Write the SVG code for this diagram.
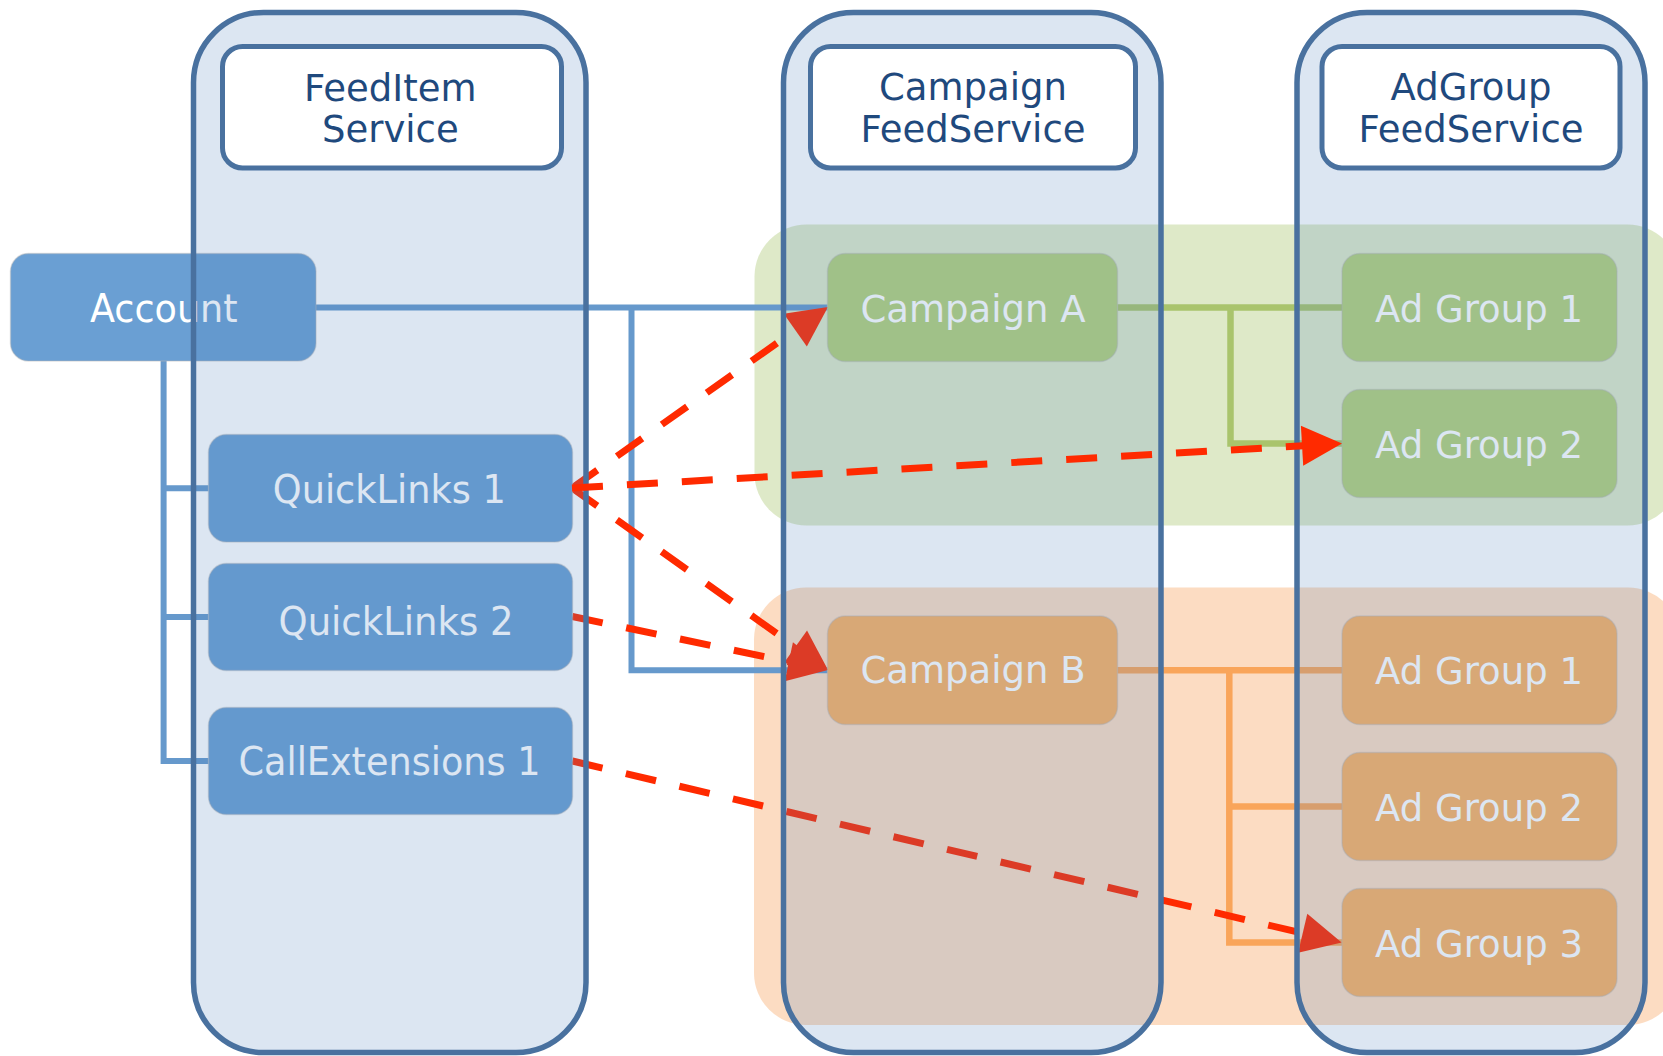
<svg xmlns="http://www.w3.org/2000/svg" width="1663" height="1056" viewBox="0 0 1663 1056">
<defs>
<style>
.region-g{fill:#9bbb59;fill-opacity:.33}
.region-o{fill:#f79646;fill-opacity:.33}
.lane{fill:#4f81bd;fill-opacity:.2;stroke:#49719f;stroke-width:5.5}
.hdr{fill:#ffffff;stroke:#49719f;stroke-width:5}
.htxt{font-family:"DejaVu Sans",Verdana,sans-serif;font-size:37px;fill:#1f497d;text-anchor:middle}
.nb{fill:#6a9fd3}
.ng{fill:#b5d17b}
.no{fill:#fbb265}
.node{stroke:#b4b4b4;stroke-opacity:.4;stroke-width:1.5}
.ntxt{font-family:"DejaVu Sans",Verdana,sans-serif;font-size:37px;fill:#ffffff;text-anchor:middle}
.btxt{font-size:38.5px}
.cb{fill:none;stroke:#6699cc;stroke-width:6}
.cg{fill:none;stroke:#a9c46c;stroke-width:6.5}
.co{fill:none;stroke:#f9a55a;stroke-width:6.5}
.dash{fill:none;stroke:#ff2a00;stroke-width:7;stroke-dasharray:31 24;marker-end:url(#arrow)}
</style>
<marker id="arrow" markerUnits="userSpaceOnUse" markerWidth="42" markerHeight="42" refX="30" refY="20" orient="auto" overflow="visible"><path d="M0,0 L40,20 L0,40 Z" fill="#ff2a00"/></marker>
</defs>

<g id="regions">
<rect id="region-campaign-a" class="region-g" x="754.5" y="224.5" width="925" height="301" rx="52"/>
<rect id="region-campaign-b" class="region-o" x="754" y="587.5" width="926" height="437.5" rx="52"/>
</g>

<g id="connectors">
<path class="cb" d="M163.6,361 V761 H208.5 M163.6,488.2 H208.5 M163.6,617 H208.5"/>
<path class="cb" d="M316,307.5 H827.5 M631.5,307.5 V670.2 H827.5"/>
<path class="cg" d="M1117.5,307.5 H1342 M1230.5,307.5 V443.5 H1342"/>
<path class="co" d="M1117.5,670.2 H1342 M1229.3,670.2 V942.4 H1342 M1229.3,806.5 H1342"/>
<path class="dash" d="M572,488 L819.8,312.8"/>
<path class="dash" d="M572,488 L819.9,664.2"/>
<path class="dash" d="M572.3,616.5 L818.2,667.9"/>
<path class="dash" d="M572.3,761 L1331.9,940.1"/>
</g>

<g id="node-account"><rect class="node nb" x="10.5" y="253.5" width="305.5" height="107.5" rx="18"/><text class="ntxt btxt" x="163.8" y="321.7" textLength="147.7" lengthAdjust="spacingAndGlyphs">Account</text></g>
<g id="node-quicklinks-1"><rect class="node nb" x="208.5" y="434.5" width="364" height="107.5" rx="18"/><text class="ntxt btxt" x="389.3" y="503.3" textLength="233" lengthAdjust="spacingAndGlyphs">QuickLinks 1</text></g>
<g id="node-quicklinks-2"><rect class="node nb" x="208.5" y="563.5" width="364" height="107" rx="18"/><text class="ntxt btxt" x="396" y="634.5" textLength="235" lengthAdjust="spacingAndGlyphs">QuickLinks 2</text></g>
<g id="node-callextensions-1"><rect class="node nb" x="208.5" y="707.5" width="364" height="107" rx="18"/><text class="ntxt btxt" x="389.5" y="775" textLength="302" lengthAdjust="spacingAndGlyphs">CallExtensions 1</text></g>
<g id="node-campaign-a"><rect class="node ng" x="827.5" y="253.5" width="290" height="108" rx="18"/><text class="ntxt" x="973" y="321.7">Campaign A</text></g>
<g id="node-campaign-b"><rect class="node no" x="827.5" y="616" width="290" height="108.5" rx="18"/><text class="ntxt" x="973" y="683.3">Campaign B</text></g>
<g id="node-a-adgroup-1"><rect class="node ng" x="1342" y="253.5" width="275" height="108" rx="18"/><text class="ntxt" x="1479" y="321.7">Ad Group 1</text></g>
<g id="node-a-adgroup-2"><rect class="node ng" x="1342" y="389.5" width="275" height="108" rx="18"/><text class="ntxt" x="1479" y="457.5">Ad Group 2</text></g>
<g id="node-b-adgroup-1"><rect class="node no" x="1342" y="616" width="275" height="108.5" rx="18"/><text class="ntxt" x="1479" y="683.5">Ad Group 1</text></g>
<g id="node-b-adgroup-2"><rect class="node no" x="1342" y="752.5" width="275" height="108" rx="18"/><text class="ntxt" x="1479" y="821">Ad Group 2</text></g>
<g id="node-b-adgroup-3"><rect class="node no" x="1342" y="888.5" width="275" height="108" rx="18"/><text class="ntxt" x="1479" y="956.5">Ad Group 3</text></g>

<g id="lane-feeditem-service">
<rect class="lane" x="193.5" y="12.5" width="392.5" height="1040" rx="70"/>
<rect class="hdr" x="222.5" y="46.5" width="339" height="121.5" rx="20"/>
<text class="htxt" x="390.3" y="101">FeedItem</text>
<text class="htxt" x="390.3" y="141.7">Service</text>
</g>
<g id="lane-campaign-feedservice">
<rect class="lane" x="783.5" y="12.5" width="377.5" height="1040" rx="70"/>
<rect class="hdr" x="810.5" y="46.5" width="325" height="121.5" rx="20"/>
<text class="htxt" x="973" y="100">Campaign</text>
<text class="htxt" x="973" y="141.7">FeedService</text>
</g>
<g id="lane-adgroup-feedservice">
<rect class="lane" x="1297" y="12.5" width="348" height="1040" rx="70"/>
<rect class="hdr" x="1322" y="46.5" width="298" height="121.5" rx="20"/>
<text class="htxt" x="1471" y="100">AdGroup</text>
<text class="htxt" x="1471" y="141.7">FeedService</text>
</g>

<g id="connectors-top">
<path class="dash" d="M572,488 L1332,444.1"/>
</g>
</svg>
